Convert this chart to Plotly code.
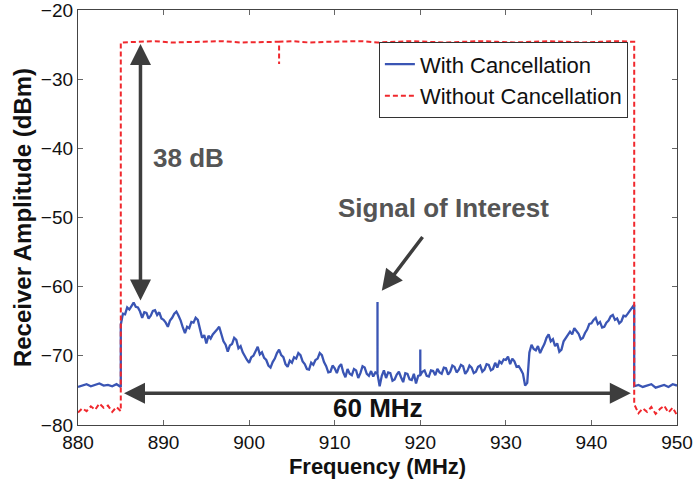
import plotly.graph_objects as go

# ---------------- data ----------------
# With Cancellation (blue)
out_step = 0.5
blue_left_start = 880.0
blue_left_dbm = [-74.5, -74.3, -74.1, -74.4, -74.2, -74.0, -74.3, -74.2, -74.4, -74.1, -74.5]
blue_in_start, blue_in_step = 885.0, 0.25
blue_in_dbm = [
    -65.5, -63.9, -64.0, -63.0, -63.3, -62.8, -62.3, -62.9, -63.0, -63.6,
    -64.5, -63.7, -63.8, -64.6, -64.2, -63.5, -63.4, -64.1, -63.7, -64.6,
    -64.8, -65.2, -65.8, -64.9, -64.5, -63.9, -63.6, -64.2, -64.9, -65.9,
    -66.7, -65.8, -66.0, -65.1, -65.2, -64.5, -64.8, -66.1, -67.4, -67.0,
    -68.2, -67.1, -67.5, -66.9, -66.6, -66.2, -65.8, -66.9, -67.9, -68.4,
    -69.4, -68.5, -68.3, -67.4, -67.7, -68.9, -68.6, -69.5, -70.1, -70.6,
    -71.0, -70.2, -70.0, -69.2, -68.7, -69.8, -69.5, -70.3, -70.6, -71.4,
    -71.7, -70.9, -70.4, -69.6, -69.1, -69.9, -70.2, -71.2, -71.6, -70.7,
    -71.0, -70.2, -70.4, -69.6, -69.9, -70.8, -71.2, -71.9, -72.0, -71.0,
    -71.3, -70.6, -70.4, -69.6, -69.9, -70.9, -71.5, -72.4, -72.3, -71.4,
    -71.8, -72.5, -71.6, -71.2, -72.4, -73.1, -71.9, -72.6, -72.8, -71.9,
    -72.1, -73.2, -72.5, -71.5, -71.7, -72.6, -72.9, -72.2, -73.0, -72.4,
    -72.6, -74.4, -72.9, -72.1, -73.2, -72.4, -72.5, -73.6, -73.4, -72.7,
    -72.3, -73.1, -73.8, -72.5, -72.6, -73.4, -73.5, -72.6, -74.0, -72.9,
    -72.8, -72.3, -72.1, -72.9, -73.0, -72.1, -72.2, -72.8, -71.9, -72.4,
    -72.6, -71.7, -71.8, -72.7, -72.3, -71.4, -71.6, -72.4, -72.0, -71.3,
    -71.5, -72.6, -72.2, -71.4, -71.7, -72.5, -72.3, -71.6, -71.4, -72.3,
    -72.0, -71.2, -71.3, -72.1, -71.9, -71.0, -71.7, -70.8, -71.1, -70.5,
    -70.6, -70.1, -71.2, -70.4, -70.8, -71.6, -71.5, -72.0, -72.6, -74.3,
    -73.9, -69.5, -68.4, -69.0, -69.2, -68.6, -69.6, -68.9, -68.3, -67.4,
    -66.9, -67.9, -67.6, -68.6, -68.2, -69.4, -69.1, -67.9, -67.4, -66.8,
    -66.5, -66.9, -66.0, -66.4, -66.8, -67.6, -67.4, -66.7, -66.2, -65.4,
    -65.3, -64.8, -64.5, -65.4, -65.1, -65.9, -65.8, -65.2, -64.9, -64.3,
    -64.1, -64.8, -64.6, -65.3, -65.0, -64.2, -64.3, -63.9, -63.4, -63.1,
    -62.6,
]
blue_right_start = 945.0
blue_right_dbm = [-74.4, -74.2, -74.5, -74.3, -74.1, -74.6, -74.4, -74.2, -74.5, -74.1, -74.3]
blue_spike_freq = [915.0, 920.0]
blue_spike_dbm = [-62.2, -69.1]

# Without Cancellation (red dashed)
red_left_dbm = [-78.2, -77.6, -78.0, -77.3, -77.8, -76.9, -77.5, -77.2, -78.1, -77.4, -78.0]
red_in_freq = [885.0, 887.0, 889.0, 891.0, 893.0, 895.0, 897.0, 899.0, 901.0, 903.0,
               903.5, 903.5, 903.5, 905.0, 907.0, 909.0, 911.0, 913.0, 915.0, 917.0,
               919.0, 921.0, 923.0, 925.0, 927.0, 929.0, 931.0, 933.0, 935.0, 937.0,
               939.0, 941.0, 943.0, 945.0]
red_in_dbm = [-24.7, -24.6, -24.5, -24.7, -24.6, -24.6, -24.5, -24.7, -24.6, -24.6,
              -24.6, -27.8, -24.6, -24.5, -24.7, -24.6, -24.6, -24.5, -24.7, -24.6,
              -24.5, -24.6, -24.7, -24.6, -24.5, -24.6, -24.7, -24.6, -24.5, -24.6,
              -24.7, -24.6, -24.5, -24.6]
red_right_dbm = [-77.0, -78.3, -77.6, -78.1, -77.4, -78.4, -77.7, -77.2, -78.2, -77.5, -78.6]

x_ticks = [880, 890, 900, 910, 920, 930, 940, 950]
y_ticks = [-80, -70, -60, -50, -40, -30, -20]

# ---------------- build series ----------------
def grid(start, n, step):
    return [round(start + i * step, 4) for i in range(n)]

bx, by = [], []
bx += grid(blue_left_start, len(blue_left_dbm), out_step); by += blue_left_dbm
for f, v in zip(grid(blue_in_start, len(blue_in_dbm), blue_in_step), blue_in_dbm):
    if f in blue_spike_freq:
        p = blue_spike_dbm[blue_spike_freq.index(f)]
        bx += [f, f, f]; by += [v, p, v]
    else:
        bx.append(f); by.append(v)
bx += grid(blue_right_start, len(blue_right_dbm), out_step); by += blue_right_dbm

rx, ry = [], []
rx += grid(blue_left_start, len(red_left_dbm), out_step); ry += red_left_dbm
rx += red_in_freq; ry += red_in_dbm
rx += grid(blue_right_start, len(red_right_dbm), out_step); ry += red_right_dbm

FONT = "Liberation Sans, Arial, Helvetica, sans-serif"
fig = go.Figure()
fig.add_trace(go.Scatter(x=bx, y=by, mode="lines", name="With Cancellation",
                         line=dict(color="#3a55b4", width=2.3)))
fig.add_trace(go.Scatter(x=rx, y=ry, mode="lines", name="Without Cancellation",
                         line=dict(color="#f0282d", width=2, dash="5px,3px")))

arrow_col = "#3d3d3d"
# 38 dB vertical double arrow
fig.add_annotation(x=887.3, y=-24.9, ax=887.3, ay=-62.2, xref="x", yref="y",
                   axref="x", ayref="y", showarrow=True, arrowhead=2, arrowsize=1.2,
                   arrowwidth=3.5, arrowcolor=arrow_col, arrowside="end+start", text="")
# 60 MHz horizontal double arrow
fig.add_annotation(x=944.6, y=-75.4, ax=885.2, ay=-75.4, xref="x", yref="y",
                   axref="x", ayref="y", showarrow=True, arrowhead=2, arrowsize=1.2,
                   arrowwidth=3.5, arrowcolor=arrow_col, arrowside="end+start", text="")
# Signal of interest arrow
fig.add_annotation(x=915.5, y=-60.6, ax=920.4, ay=-52.6, xref="x", yref="y",
                   axref="x", ayref="y", showarrow=True, arrowhead=2, arrowsize=1.2,
                   arrowwidth=3.5, arrowcolor=arrow_col, text="")
fig.add_annotation(x=888.5, y=-41.4, xref="x", yref="y", showarrow=False,
                   text="<b>38 dB</b>", xanchor="left",
                   font=dict(family=FONT, size=26, color="#555555"))
fig.add_annotation(x=915.0, y=-77.6, xref="x", yref="y", showarrow=False,
                   text="<b>60 MHz</b>", font=dict(family=FONT, size=26, color="#111111"))
fig.add_annotation(x=922.7, y=-48.6, xref="x", yref="y", showarrow=False,
                   text="<b>Signal of Interest</b>",
                   font=dict(family=FONT, size=26, color="#555555"))

axis_common = dict(showline=True, linecolor="#444444", linewidth=1.2, mirror="ticks",
                   ticks="inside", ticklen=5, tickcolor="#666666", showgrid=False,
                   zeroline=False, automargin=False, ticklabeloverflow="allow",
                   tickfont=dict(family=FONT, size=19, color="#111111"))
fig.update_xaxes(range=[880, 950], tickvals=x_ticks,
                 title=dict(text="<b>Frequency (MHz)</b>", standoff=6,
                            font=dict(family=FONT, size=22, color="#111111")),
                 **axis_common)
fig.update_yaxes(range=[-80, -20], tickvals=y_ticks,
                 title=dict(text="<b>Receiver Amplitude (dBm)</b>", standoff=2,
                            font=dict(family=FONT, size=24, color="#111111")),
                 **axis_common)
fig.update_layout(width=694, height=483, margin=dict(l=78, r=17, t=10, b=58),
                  paper_bgcolor="white", plot_bgcolor="white",
                  font=dict(family=FONT),
                  legend=dict(x=0.918, y=0.922, xanchor="right", yanchor="top",
                              bgcolor="white", bordercolor="#333333", borderwidth=1,
                              font=dict(family=FONT, size=22, color="#111111"),
                              tracegroupgap=0, itemwidth=30))
fig.write_html("out.html", config={"displayModeBar": False},
               post_script="document.body.style.margin='0';")
